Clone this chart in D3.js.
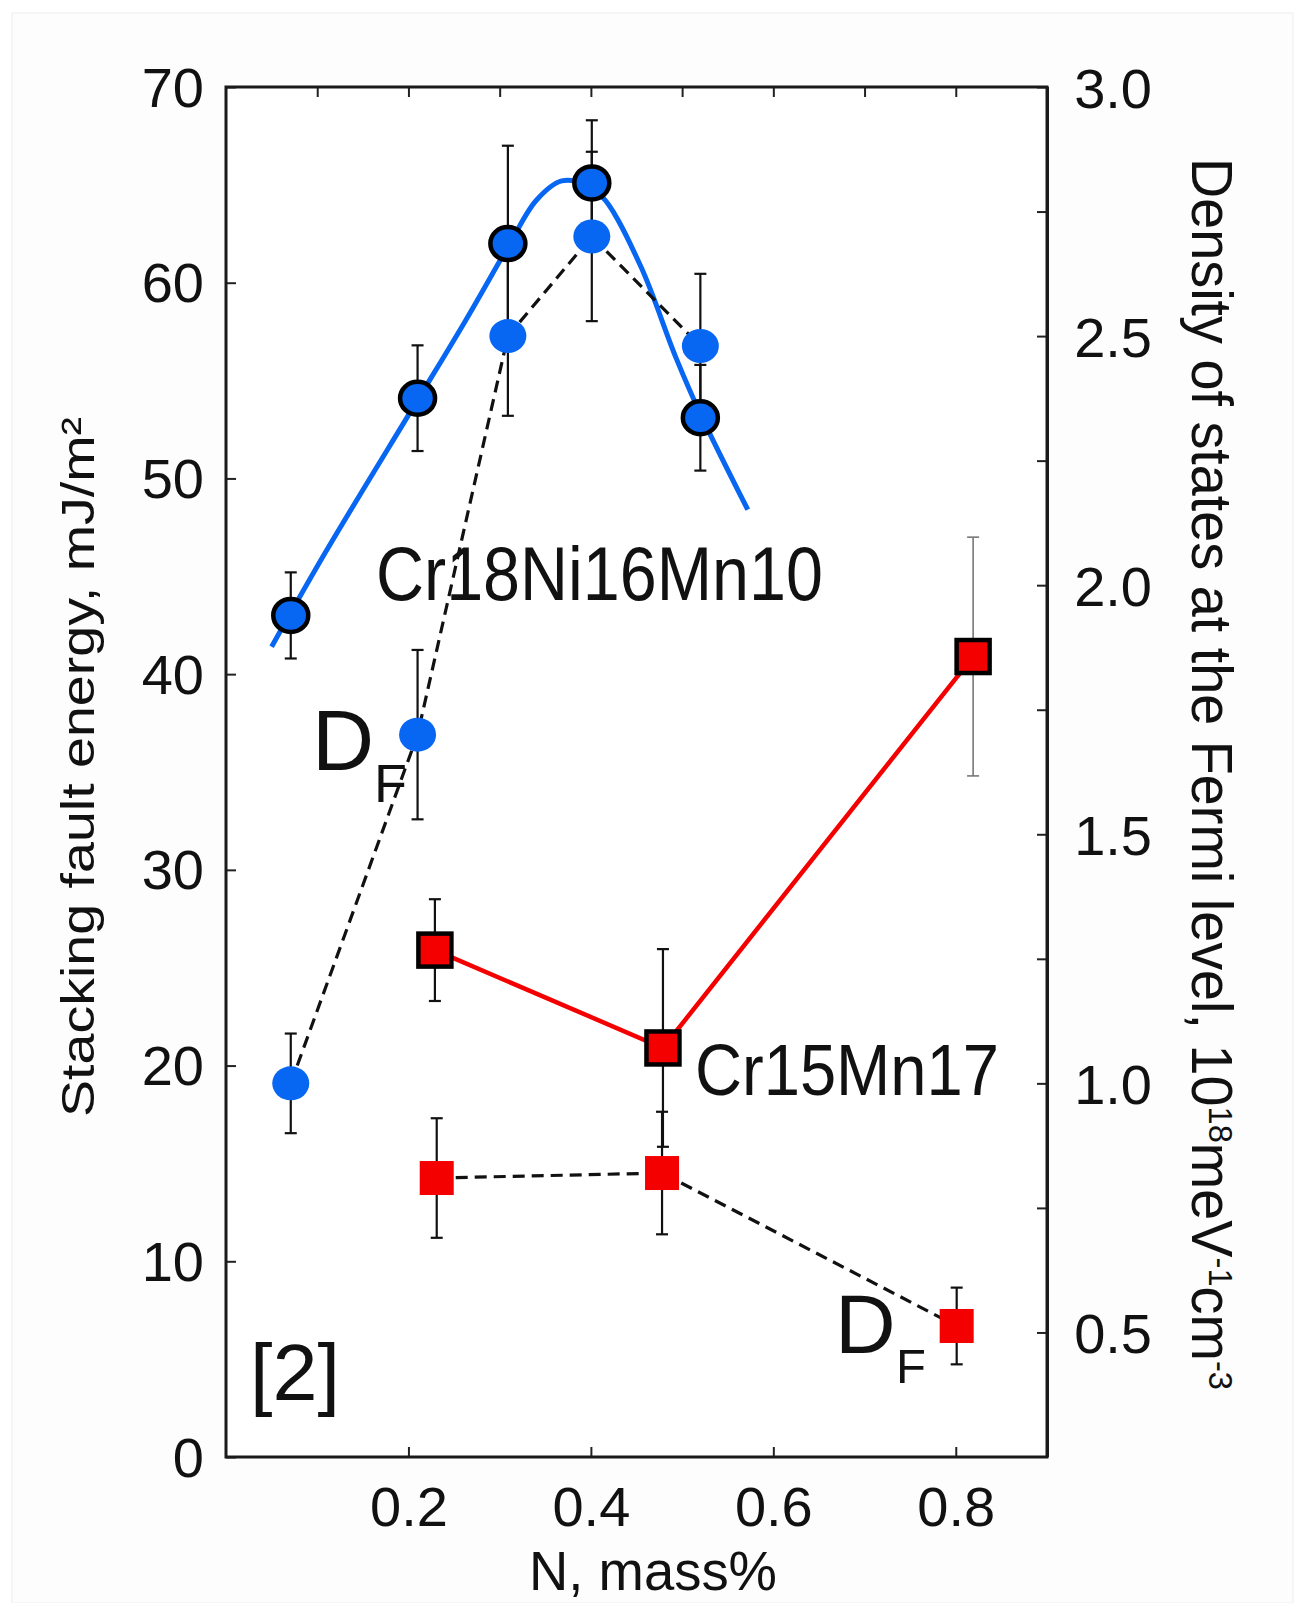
<html>
<head>
<meta charset="utf-8">
<script src="https://cdnjs.cloudflare.com/ajax/libs/d3/7.8.5/d3.min.js"></script>
<style>
body { margin: 0; background: #fff; }
text { font-family: "Liberation Sans", Arial, sans-serif; fill: #111; }
.tick line { stroke: #222; stroke-width: 2; }
.domain { display: none; }
</style>
</head>
<body>
<script>
// N, mass% positions and values
var nCrNi = [0.071, 0.210, 0.309, 0.401, 0.520]
var sfeCrNi = [43.0, 54.1, 62.0, 65.1, 53.1]
var sfeCrNiErr = [2.2, 2.7, 5.0, 3.2, 2.7]
var dfCrNi = [1.00, 1.70, 2.50, 2.70, 2.48]
var dfCrNiErr = [0.10, 0.17, 0.16, 0.17, 0.145]

// fitted curve through the Cr18Ni16Mn10 stacking fault energy
var fitN = [0.05, 0.11, 0.21, 0.263, 0.31, 0.34, 0.368, 0.395, 0.416, 0.455, 0.493, 0.52, 0.572]
var fitSfe = [41.4, 46.3, 54.0, 58.1, 61.9, 64.2, 65.2, 65.0, 64.2, 60.8, 56.2, 53.3, 48.4]

var nCrMn = [0.229, 0.479, 0.819]
var sfeCrMn = [25.9, 20.9, 40.9]
var sfeCrMnErr = [2.6, 5.05, 6.1]
var nDfCrMn = [0.231, 0.478, 0.801]
var dfCrMn = [0.81, 0.82, 0.513]
var dfCrMnErr = [0.12, 0.123, 0.077]

var leftTicks = [0, 10, 20, 30, 40, 50, 60, 70]
var rightTicks = [0.5, 0.75, 1.0, 1.25, 1.5, 1.75, 2.0, 2.25, 2.5, 2.75, 3.0]
var bottomTicks = [0.2, 0.4, 0.6, 0.8]
var topTicks = [0.1, 0.2, 0.3, 0.4, 0.5, 0.6, 0.7, 0.8]

var W = 1297, H = 1603
var blue = "#0766f2", red = "#f40000"

var x = d3.scaleLinear().domain([0, 0.9]).range([226, 1047])
var yL = d3.scaleLinear().domain([0, 70]).range([1457, 87])
var yR = d3.scaleLinear().domain([0.25, 3.0]).range([1457, 87])

var svg = d3.select("body").append("svg")
    .attr("width", W)
    .attr("height", H)

svg.append("rect")
    .attr("x", 12).attr("y", 13)
    .attr("width", W - 16).attr("height", H - 13)
    .attr("fill", "#fdfdfd").attr("stroke", "#eeeeee")

svg.append("rect")
    .attr("x", x(0)).attr("y", yL(70))
    .attr("width", x(0.9) - x(0)).attr("height", yL(0) - yL(70))
    .attr("fill", "#fff")

// axes, ticks pointing inward
var gl = svg.append("g").attr("transform", "translate(" + x(0) + ",0)")
    .call(d3.axisLeft(yL).tickValues(leftTicks).tickSize(-10).tickPadding(22))
gl.selectAll("text").attr("font-size", 56).attr("dy", "0.34em")

var gr = svg.append("g").attr("transform", "translate(" + x(0.9) + ",0)")
    .call(d3.axisRight(yR).tickValues(rightTicks).tickSize(-10).tickPadding(105)
        .tickFormat(d => (Math.round(d * 100) % 50 == 0) ? d3.format(".1f")(d) : ""))
gr.selectAll("text").attr("font-size", 56).attr("dy", "0.36em").attr("text-anchor", "end")

var gb = svg.append("g").attr("transform", "translate(0," + yL(0) + ")")
    .call(d3.axisBottom(x).tickValues(bottomTicks).tickSize(-10).tickPadding(29)
        .tickFormat(d3.format(".1f")))
gb.selectAll("text").attr("font-size", 56)

svg.append("g").attr("transform", "translate(0," + yL(70) + ")")
    .call(d3.axisTop(x).tickValues(topTicks).tickSize(-10).tickFormat(""))

// frame
svg.append("rect")
    .attr("x", x(0)).attr("y", yL(70))
    .attr("width", x(0.9) - x(0)).attr("height", yL(0) - yL(70))
    .attr("fill", "none").attr("stroke", "#1a1a1a").attr("stroke-width", 3)
svg.append("line")
    .attr("x1", x(0.9) + 1).attr("x2", x(0.9) + 1).attr("y1", yL(70)).attr("y2", yL(0))
    .attr("stroke", "#1a1a1a").attr("stroke-width", 2)

// lines
svg.append("path")
    .datum(d3.zip(fitN, fitSfe))
    .attr("d", d3.line().x(d => x(d[0])).y(d => yL(d[1])).curve(d3.curveCatmullRom.alpha(0.5)))
    .attr("fill", "none").attr("stroke", blue).attr("stroke-width", 5)

svg.append("path")
    .datum(d3.zip(nCrNi, dfCrNi))
    .attr("d", d3.line().x(d => x(d[0])).y(d => yR(d[1])))
    .attr("fill", "none").attr("stroke", "#111").attr("stroke-width", 3.2).attr("stroke-dasharray", "12,7")

svg.append("path")
    .datum(d3.zip(nDfCrMn, dfCrMn))
    .attr("d", d3.line().x(d => x(d[0])).y(d => yR(d[1])))
    .attr("fill", "none").attr("stroke", "#111").attr("stroke-width", 3.2).attr("stroke-dasharray", "12,7")

svg.append("path")
    .datum(d3.zip(nCrMn, sfeCrMn))
    .attr("d", d3.line().x(d => x(d[0])).y(d => yL(d[1])))
    .attr("fill", "none").attr("stroke", red).attr("stroke-width", 4.5)

// error bars
function errBars(xs, ys, es, scale, thin) {
    var g = svg.append("g")
    xs.forEach(function (xv, i) {
        var c = (thin && i == xs.length - 1) ? "#777" : "#111"
        var sw = (thin && i == xs.length - 1) ? 1.6 : 2.2
        var px = x(xv), top = scale(ys[i] + es[i]), bot = scale(ys[i] - es[i])
        g.append("line").attr("x1", px).attr("x2", px).attr("y1", top).attr("y2", bot)
            .attr("stroke", c).attr("stroke-width", sw)
        ;[top, bot].forEach(function (yy) {
            g.append("line").attr("x1", px - 6).attr("x2", px + 6).attr("y1", yy).attr("y2", yy)
                .attr("stroke", c).attr("stroke-width", sw)
        })
    })
}
errBars(nCrNi, sfeCrNi, sfeCrNiErr, yL)
errBars(nCrNi, dfCrNi, dfCrNiErr, yR)
errBars(nCrMn, sfeCrMn, sfeCrMnErr, yL, true)
errBars(nDfCrMn, dfCrMn, dfCrMnErr, yR)

// markers
svg.append("g").selectAll("ellipse")
    .data(d3.zip(nCrNi, dfCrNi))
    .join("ellipse")
    .attr("cx", d => x(d[0])).attr("cy", d => yR(d[1]))
    .attr("rx", 18.5).attr("ry", 17)
    .attr("fill", blue)

svg.append("g").selectAll("ellipse")
    .data(d3.zip(nCrNi, sfeCrNi))
    .join("ellipse")
    .attr("cx", d => x(d[0])).attr("cy", d => yL(d[1]))
    .attr("rx", 17.5).attr("ry", 16.5)
    .attr("fill", blue).attr("stroke", "#000").attr("stroke-width", 4.5)

svg.append("g").selectAll("rect")
    .data(d3.zip(nDfCrMn, dfCrMn))
    .join("rect")
    .attr("x", d => x(d[0]) - 17).attr("y", d => yR(d[1]) - 17)
    .attr("width", 34).attr("height", 34)
    .attr("fill", red)

svg.append("g").selectAll("rect")
    .data(d3.zip(nCrMn, sfeCrMn))
    .join("rect")
    .attr("x", d => x(d[0]) - 16.5).attr("y", d => yL(d[1]) - 16.5)
    .attr("width", 33).attr("height", 33)
    .attr("fill", red).attr("stroke", "#000").attr("stroke-width", 4.5)

// annotations
svg.append("text").attr("x", 376).attr("y", 600)
    .attr("font-size", 76).attr("textLength", 447).attr("lengthAdjust", "spacingAndGlyphs")
    .text("Cr18Ni16Mn10")
svg.append("text").attr("x", 695).attr("y", 1095)
    .attr("font-size", 72).attr("textLength", 304).attr("lengthAdjust", "spacingAndGlyphs")
    .text("Cr15Mn17")

svg.append("text").attr("x", 312).attr("y", 770).attr("font-size", 86).text("D")
svg.append("text").attr("x", 374).attr("y", 802).attr("font-size", 54).text("F")
svg.append("text").attr("x", 835).attr("y", 1353).attr("font-size", 84).text("D")
svg.append("text").attr("x", 896).attr("y", 1383).attr("font-size", 49).text("F")

svg.append("text").attr("x", 250).attr("y", 1400).attr("font-size", 80)
    .attr("textLength", 90).attr("lengthAdjust", "spacingAndGlyphs")
    .text("[2]")

// axis titles
svg.append("text")
    .attr("transform", "translate(94,767) rotate(-90)")
    .attr("text-anchor", "middle").attr("font-size", 47)
    .attr("textLength", 700).attr("lengthAdjust", "spacingAndGlyphs")
    .text("Stacking fault energy, mJ/m²")

var rt = svg.append("text")
    .attr("transform", "translate(1192,774) rotate(90)")
    .attr("text-anchor", "middle").attr("font-size", 58)
    .attr("textLength", 1232).attr("lengthAdjust", "spacingAndGlyphs")
rt.append("tspan").text("Density of states at the Fermi level, 10")
rt.append("tspan").attr("font-size", 34).attr("dy", -17).text("18")
rt.append("tspan").attr("dy", 17).text("meV")
rt.append("tspan").attr("font-size", 34).attr("dy", -17).text("-1")
rt.append("tspan").attr("dy", 17).text("cm")
rt.append("tspan").attr("font-size", 34).attr("dy", -17).text("-3")

svg.append("text")
    .attr("x", 653).attr("y", 1590)
    .attr("text-anchor", "middle").attr("font-size", 56)
    .attr("textLength", 248).attr("lengthAdjust", "spacingAndGlyphs")
    .text("N, mass%")
</script>
</body>
</html>
